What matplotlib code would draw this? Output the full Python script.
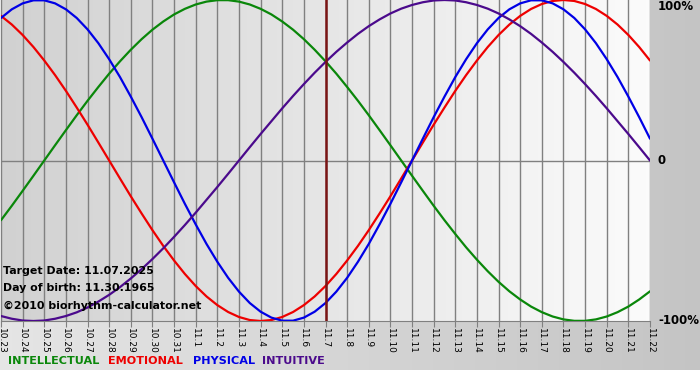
import numpy as np
import matplotlib
matplotlib.use("Agg")
import matplotlib.pyplot as plt

# day labels, 10.23 .. 11.22 (target 11.7 in the middle)
days = ["10.23", "10.24", "10.25", "10.26", "10.27", "10.28", "10.29", "10.30", "10.31",
        "11.1", "11.2", "11.3", "11.4", "11.5", "11.6", "11.7", "11.8", "11.9", "11.10",
        "11.11", "11.12", "11.13", "11.14", "11.15", "11.16", "11.17", "11.18", "11.19",
        "11.20", "11.21", "11.22"]
target_day = "11.7"

# curve values read every half day, from 10.23 to 11.22
physical = [0.888, 0.942, 0.979, 0.998, 0.998, 0.979, 0.942, 0.888, 0.817, 0.731, 0.631,
            0.520, 0.398, 0.270, 0.136, 0.0, -0.136, -0.270, -0.398, -0.520, -0.631,
            -0.731, -0.817, -0.888, -0.942, -0.979, -0.998, -0.998, -0.979, -0.942, -0.888,
            -0.817, -0.731, -0.631, -0.520, -0.398, -0.270, -0.136, 0.0, 0.136, 0.270,
            0.398, 0.520, 0.631, 0.731, 0.817, 0.888, 0.942, 0.979, 0.998, 0.998, 0.979,
            0.942, 0.888, 0.817, 0.731, 0.631, 0.520, 0.398, 0.270, 0.136]
emotional = [0.901, 0.847, 0.782, 0.707, 0.623, 0.532, 0.434, 0.330, 0.223, 0.112, 0.0,
             -0.112, -0.223, -0.330, -0.434, -0.532, -0.623, -0.707, -0.782, -0.847, -0.901,
             -0.944, -0.975, -0.994, -1.0, -0.994, -0.975, -0.944, -0.901, -0.847, -0.782,
             -0.707, -0.623, -0.532, -0.434, -0.330, -0.223, -0.112, 0.0, 0.112, 0.223,
             0.330, 0.434, 0.532, 0.623, 0.707, 0.782, 0.847, 0.901, 0.944, 0.975, 0.994,
             1.0, 0.994, 0.975, 0.944, 0.901, 0.847, 0.782, 0.707, 0.623]
intellectual = [-0.372, -0.282, -0.189, -0.095, 0.0, 0.095, 0.189, 0.282, 0.372, 0.458,
                0.541, 0.618, 0.690, 0.756, 0.815, 0.866, 0.910, 0.945, 0.972, 0.990, 0.999,
                0.999, 0.990, 0.972, 0.945, 0.910, 0.866, 0.815, 0.756, 0.690, 0.618, 0.541,
                0.458, 0.372, 0.282, 0.189, 0.095, 0.0, -0.095, -0.189, -0.282, -0.372,
                -0.458, -0.541, -0.618, -0.690, -0.756, -0.815, -0.866, -0.910, -0.945,
                -0.972, -0.990, -0.999, -0.999, -0.990, -0.972, -0.945, -0.910, -0.866, -0.815]
intuitive = [-0.969, -0.986, -0.997, -1.0, -0.997, -0.986, -0.969, -0.946, -0.916, -0.879,
             -0.837, -0.789, -0.735, -0.677, -0.614, -0.547, -0.476, -0.402, -0.325, -0.245,
             -0.165, -0.083, 0.0, 0.083, 0.165, 0.245, 0.325, 0.402, 0.476, 0.547, 0.614,
             0.677, 0.735, 0.789, 0.837, 0.879, 0.916, 0.946, 0.969, 0.986, 0.997, 1.0,
             0.997, 0.986, 0.969, 0.946, 0.916, 0.879, 0.837, 0.789, 0.735, 0.677, 0.614,
             0.547, 0.476, 0.402, 0.325, 0.245, 0.165, 0.083, 0.0]

series = [
    ("INTELLECTUAL", intellectual, "#0a870a"),
    ("EMOTIONAL", emotional, "#ee0000"),
    ("PHYSICAL", physical, "#0000e6"),
    ("INTUITIVE", intuitive, "#4b0a8c"),
]

W, H = 700, 380
fig = plt.figure(figsize=(W / 100, H / 100), dpi=100)


def hgrad(a, b):
    g = np.linspace(a, b, 256)
    return np.dstack([g, g, g]).repeat(2, axis=0)


# figure background: soft gray gradient, white strip at the very bottom
bg = fig.add_axes([0, 0, 1, 1], zorder=-10)
bg.imshow(hgrad(0.90, 0.77), aspect="auto", extent=(0, 1, 0, 1), interpolation="bilinear")
bg.axhspan(0, 10 / H, color="white", lw=0)
bg.set_xlim(0, 1)
bg.set_ylim(0, 1)
bg.axis("off")

# plot area in pixels: x 1..650, y 0..321
x0, x1, ytop, ybot = 1, 650, 0, 321
ax = fig.add_axes([x0 / W, (H - ybot) / H, (x1 - x0) / W, (ybot - ytop) / H])
x = np.arange(len(days))
ax.imshow(hgrad(0.82, 0.985), aspect="auto", extent=(0, len(days) - 1, -1, 1),
          interpolation="bilinear", zorder=0)
ax.set_xlim(0, len(days) - 1)
ax.set_ylim(-1, 1)

for xi in x:
    ax.axvline(xi, color="#808080", lw=1, zorder=1)
ax.axhline(0, color="#808080", lw=1, zorder=1)

for name, vals, col in series:
    xs = np.arange(len(vals)) * 0.5
    ax.plot(xs, vals, color=col, lw=1.6, zorder=3, solid_capstyle="round",
            solid_joinstyle="round")

ax.axvline(days.index(target_day), color="#7a1414", lw=1.8, zorder=4)

for s in ["top", "left", "right"]:
    ax.spines[s].set_visible(False)
ax.spines["bottom"].set_color("#808080")
ax.set_yticks([])
ax.set_xticks(x)
ax.set_xticklabels(days, rotation=-90, fontsize=6.5)
ax.tick_params(axis="x", length=4, color="#808080", pad=1)

# right-hand scale labels
for lab, py in [("100%", 7), ("0", 161), ("-100%", 321)]:
    fig.text(658 / W, 1 - py / H, lab, fontsize=8.5, fontweight="bold",
             ha="left", va="center", color="#000000")

# info text
for txt, py in [("Target Date: 11.07.2025", 271),
                ("Day of birth: 11.30.1965", 288),
                ("\u00a92010 biorhythm-calculator.net", 306)]:
    fig.text(3 / W, 1 - py / H, txt, fontsize=7.9, fontweight="bold",
             ha="left", va="center", color="#000000", zorder=5)

# legend words
for (name, vals, col), px in zip(series, [8, 108, 193, 262]):
    fig.text(px / W, 1 - 361 / H, name, fontsize=8.1, fontweight="bold",
             ha="left", va="center", color=col)

fig.savefig("out.png", dpi=100)
